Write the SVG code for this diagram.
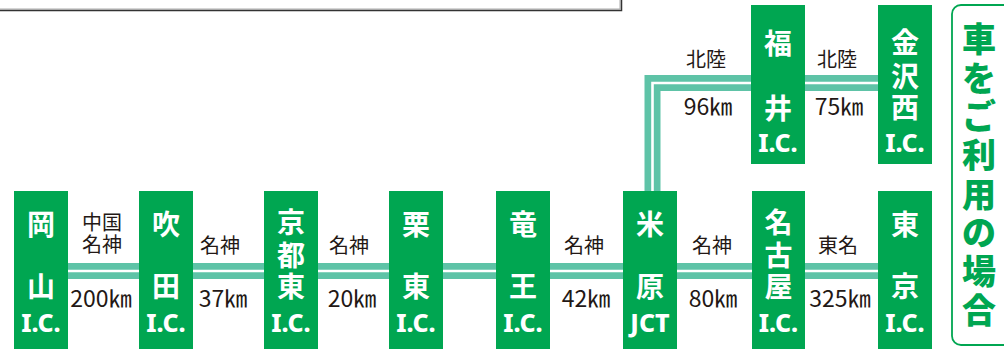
<svg xmlns="http://www.w3.org/2000/svg" width="1004" height="349" viewBox="0 0 1004 349">
<style>
.box{fill:#00a651}
.road{fill:none;stroke:#5ec3a7;stroke-width:16;stroke-linejoin:miter}
.gap{fill:none;stroke:#ffffff;stroke-width:2.6;stroke-linejoin:miter}
.n{font-family:"Noto Sans CJK JP","Noto Sans",sans-serif;font-weight:700;font-size:28px;fill:#ffffff;text-anchor:middle;dominant-baseline:central}
.ic{font-family:"Noto Sans","Noto Sans CJK JP",sans-serif;font-weight:800;font-size:25px}
.lb{font-family:"Noto Sans CJK JP",sans-serif;font-size:20px;fill:#231815;text-anchor:middle;dominant-baseline:central}
.km{font-family:"Noto Sans CJK JP",sans-serif;font-size:23px;fill:#231815;text-anchor:middle;dominant-baseline:central}
.side{font-family:"Noto Sans CJK JP",sans-serif;font-weight:900;font-size:34px;fill:#00a651;text-anchor:middle;dominant-baseline:central}
</style>
<g id="frame">
<path d="M0,9 H620 V0" fill="none" stroke="#aaaaaa" stroke-width="1"/>
<path d="M0,10.5 H621.5 V0" fill="none" stroke="#333333" stroke-width="1.5"/>
</g>
<g id="connectors">
<path class="road" d="M68,271 H878"/>
<path class="gap" d="M68,271 H878"/>
<path class="road" d="M652.5,191 V83 H878"/>
<path class="gap" d="M652.5,191 V83 H878"/>
</g>
<g id="labels">
<text class="lb"><tspan x="102" y="221">中国</tspan><tspan x="102" y="243">名神</tspan></text><text class="km" x="101" y="297">200㎞</text>
<text class="lb" x="220" y="244">名神</text><text class="km" x="223" y="297">37㎞</text>
<text class="lb" x="349" y="244">名神</text><text class="km" x="352" y="297">20㎞</text>
<text class="lb" x="584" y="244">名神</text><text class="km" x="586" y="297">42㎞</text>
<text class="lb" x="712" y="244">名神</text><text class="km" x="713" y="297">80㎞</text>
<text class="lb" x="838" y="244">東名</text><text class="km" x="840" y="297">325㎞</text>
<text class="lb" x="706" y="58">北陸</text><text class="km" x="708" y="105">96㎞</text>
<text class="lb" x="837" y="58">北陸</text><text class="km" x="839" y="105">75㎞</text>
</g>
<g id="okayama"><rect class="box" x="14" y="191" width="54" height="158"/><text class="n"><tspan x="41" y="223">岡</tspan><tspan x="41" y="285">山</tspan><tspan class="ic" x="41" y="322">I.C.</tspan></text></g>
<g id="suita"><rect class="box" x="139" y="191" width="54" height="158"/><text class="n"><tspan x="166" y="223">吹</tspan><tspan x="166" y="285">田</tspan><tspan class="ic" x="166" y="322">I.C.</tspan></text></g>
<g id="kyotohigashi"><rect class="box" x="264" y="191" width="54" height="158"/><text class="n"><tspan x="291" y="221">京</tspan><tspan x="291" y="254">都</tspan><tspan x="291" y="285">東</tspan><tspan class="ic" x="291" y="322">I.C.</tspan></text></g>
<g id="ritto"><rect class="box" x="389" y="191" width="54" height="158"/><text class="n"><tspan x="416" y="223">栗</tspan><tspan x="416" y="285">東</tspan><tspan class="ic" x="416" y="322">I.C.</tspan></text></g>
<g id="ryuo"><rect class="box" x="496" y="191" width="54" height="158"/><text class="n"><tspan x="523" y="223">竜</tspan><tspan x="523" y="285">王</tspan><tspan class="ic" x="523" y="322">I.C.</tspan></text></g>
<g id="maibara"><rect class="box" x="623" y="191" width="54" height="158"/><text class="n"><tspan x="650" y="223">米</tspan><tspan x="650" y="285">原</tspan><tspan class="ic" x="650" y="322">JCT</tspan></text></g>
<g id="nagoya"><rect class="box" x="752" y="191" width="53" height="158"/><text class="n"><tspan x="778.5" y="221">名</tspan><tspan x="778.5" y="254">古</tspan><tspan x="778.5" y="285">屋</tspan><tspan class="ic" x="778.5" y="322">I.C.</tspan></text></g>
<g id="tokyo"><rect class="box" x="878" y="191" width="54" height="158"/><text class="n"><tspan x="905" y="223">東</tspan><tspan x="905" y="285">京</tspan><tspan class="ic" x="905" y="322">I.C.</tspan></text></g>
<g id="fukui"><rect class="box" x="751" y="5" width="54" height="159"/><text class="n"><tspan x="778" y="42">福</tspan><tspan x="778" y="107">井</tspan><tspan class="ic" x="778" y="142">I.C.</tspan></text></g>
<g id="kanazawanishi"><rect class="box" x="878" y="5" width="54" height="159"/><text class="n"><tspan x="905" y="41">金</tspan><tspan x="905" y="75">沢</tspan><tspan x="905" y="106">西</tspan><tspan class="ic" x="905" y="142">I.C.</tspan></text></g>
<g id="legend">
<rect x="952" y="5" width="70" height="340" rx="9" ry="9" fill="none" stroke="#00a651" stroke-width="1.8"/>
<text class="side"><tspan x="979" y="37">車</tspan><tspan x="979" y="76">を</tspan><tspan x="979" y="114">ご</tspan><tspan x="979" y="153">利</tspan><tspan x="979" y="192">用</tspan><tspan x="979" y="230">の</tspan><tspan x="979" y="269">場</tspan><tspan x="979" y="308">合</tspan></text>
</g>
</svg>
